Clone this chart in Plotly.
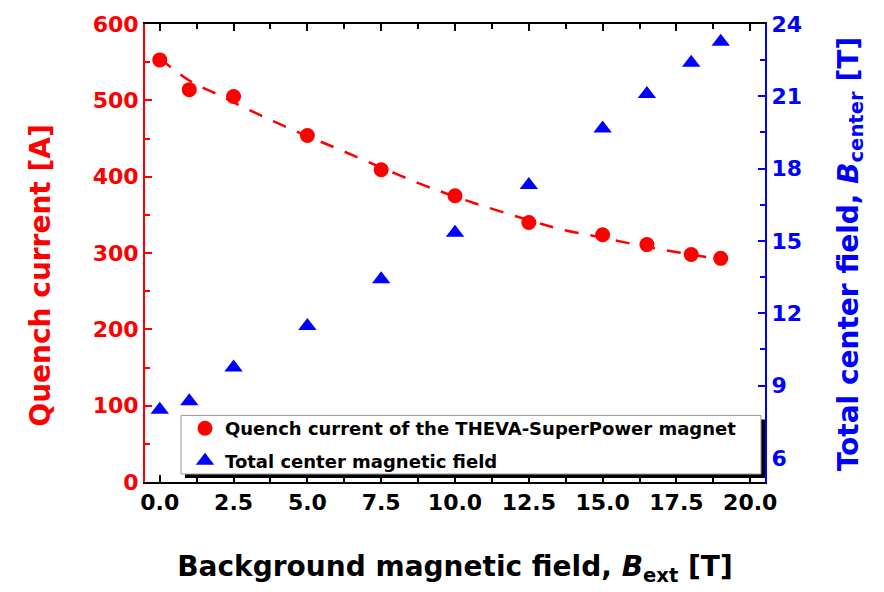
import plotly.graph_objects as go

# Background field steps [T]
b_ext = [0, 1, 2.5, 5, 7.5, 10, 12.5, 15, 16.5, 18, 19]
# Measured quench current [A]
quench_current = [553, 514, 505, 454, 409, 375, 340, 324, 311, 298, 293]
# Total field at magnet centre [T]
b_center = [8.0, 8.35, 9.75, 11.47, 13.41, 15.34, 17.32, 19.67, 21.1, 22.39, 23.26]

# Trend line through the quench-current points
trend_x = [0, 1, 2, 3, 4, 5, 6, 7.5, 9, 10, 11, 12.5, 13.6, 15, 16.5, 18, 19]
trend_y = [555, 526, 507, 488, 470, 453, 437, 412, 388, 374, 361, 343, 331, 320, 308, 298, 292]

RED = "#FF0000"
BLUE = "#0000FF"
FONT = "DejaVu Sans"

fig = go.Figure()

fig.add_trace(go.Scatter(
    x=trend_x, y=trend_y, mode="lines", line_shape="spline",
    line=dict(color=RED, width=2.5, dash="14px,12px"),
    showlegend=False, hoverinfo="skip",
))
fig.add_trace(go.Scatter(
    x=b_ext, y=quench_current, mode="markers",
    marker=dict(symbol="circle", size=15, color=RED),
    name="Quench current of the THEVA-SuperPower magnet",
    legendgroup="a",
))
fig.add_trace(go.Scatter(
    x=b_ext, y=b_center, mode="markers", yaxis="y2",
    marker=dict(symbol="triangle-up", size=16, color=BLUE),
    name="Total center magnetic field",
    legendgroup="b",
))

tickfont_black = dict(family=FONT, size=22, color="black", weight="bold")

fig.update_layout(
    width=884, height=592,
    margin=dict(l=145, r=119, t=21, b=110),
    plot_bgcolor="white", paper_bgcolor="white",
    xaxis=dict(
        range=[-0.5, 20.5], tick0=0, dtick=2.5, tickformat=".1f",
        ticks="inside", ticklen=7, tickwidth=2, tickcolor="black",
        minor=dict(dtick=1.25, ticks="inside", ticklen=5, tickwidth=2, tickcolor="black"),
        showline=True, linecolor="black", linewidth=2, mirror="ticks",
        showgrid=False, zeroline=False,
        tickfont=tickfont_black,
        title=dict(text="Background magnetic field, <i>B</i><sub>ext</sub> [T]",
                   font=dict(family=FONT, size=28, color="black", weight="bold"),
                   standoff=42),
    ),
    yaxis=dict(
        range=[0, 600], dtick=100,
        ticks="inside", ticklen=7, tickwidth=2, tickcolor=RED,
        minor=dict(dtick=50, ticks="inside", ticklen=5, tickwidth=2, tickcolor=RED),
        showline=True, linecolor=RED, linewidth=2,
        showgrid=False, zeroline=False,
        tickfont=dict(family=FONT, size=22, color=RED, weight="bold"),
    ),
    yaxis2=dict(
        range=[5, 24], tick0=6, dtick=3, overlaying="y", side="right", anchor="x",
        ticks="inside", ticklen=7, tickwidth=2, tickcolor=BLUE,
        minor=dict(dtick=1.5, ticks="inside", ticklen=5, tickwidth=2, tickcolor=BLUE),
        showline=True, linecolor=BLUE, linewidth=2,
        showgrid=False, zeroline=False,
        tickfont=dict(family=FONT, size=22, color=BLUE, weight="bold"),
    ),
    legend=dict(
        x=0.0645, y=0.157, xanchor="left", yanchor="top",
        bgcolor="rgba(0,0,0,0)", borderwidth=0,
        font=dict(family=FONT, size=18, color="black", weight="bold"),
        tracegroupgap=6,
    ),
    shapes=[
        # legend drop shadow
        dict(type="rect", xref="paper", yref="paper", layer="above",
             x0=0.0645, x1=1.0, y0=0.0087, y1=0.1367,
             fillcolor="black", line=dict(width=0)),
        # legend box
        dict(type="rect", xref="paper", yref="paper", layer="above",
             x0=0.0581, x1=0.9935, y0=0.0174, y1=0.1453,
             fillcolor="white", line=dict(color="#9a9a9a", width=1)),
    ],
    annotations=[
        dict(text="Quench current [A]", xref="paper", yref="paper",
             x=-0.169, y=0.451, xanchor="center", yanchor="middle",
             textangle=-90, showarrow=False,
             font=dict(family=FONT, size=28, color=RED, weight="bold")),
        dict(text="Total center field, <i>B</i><sub>center</sub> [T]",
             xref="paper", yref="paper",
             x=1.137, y=0.497, xanchor="center", yanchor="middle",
             textangle=-90, showarrow=False,
             font=dict(family=FONT, size=28, color=BLUE, weight="bold")),
    ],
)

fig.write_html("out.html")
